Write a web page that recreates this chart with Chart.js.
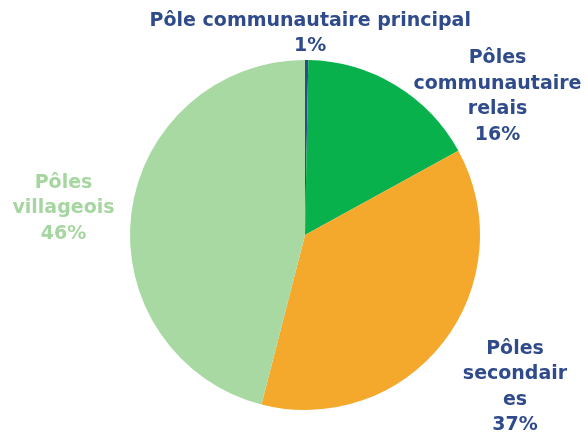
<!DOCTYPE html>
<html>
<head>
<meta charset="utf-8">
<script src="https://cdn.jsdelivr.net/npm/chart.js@4"></script>
<style>
  html, body { margin: 0; padding: 0; background: #fff; }
  #wrap { width: 588px; height: 432px; }
</style>
</head>
<body>
<div id="wrap"><canvas id="pie"></canvas></div>
<script>
// données (le 1% est dessiné comme un trait très fin)
const categories = ["Pôle communautaire principal", "Pôles communautaire relais", "Pôles secondaires", "Pôles villageois"];
const values = [0.3, 16.7, 37, 46];
const pctLabels = ["1%", "16%", "37%", "46%"];
const labelLines = [
    ["Pôle communautaire principal", "1%"],
    ["Pôles", "communautaire", "relais", "16%"],
    ["Pôles", "secondair", "es", "37%"],
    ["Pôles", "villageois", "46%"]
];
const sliceColors = ["#2d4a8c", "#08b14c", "#f5a92c", "#a9d9a3"];
const textColors = ["#2f4b8b", "#2f4b8b", "#2f4b8b", "#a6d6a0"];

// position des étiquettes, en rayons depuis le centre
const labelOffsets = [[0.03, -1.222], [1.10, -1.01], [1.20, 0.65], [-1.38, -0.298]];

const labelPlugin = {
    id: 'outerLabels',
    afterDraw(chart) {
        const ctx = chart.ctx;
        const arc = chart.getDatasetMeta(0).data[0];
        const cx = arc.x, cy = arc.y, r = arc.outerRadius;
        ctx.save();
        ctx.font = "bold 19px 'DejaVu Sans', sans-serif";
        ctx.textAlign = "center";
        ctx.textBaseline = "middle";
        labelLines.forEach((lines, i) => {
            const x = cx + labelOffsets[i][0] * r;
            let y = cy + labelOffsets[i][1] * r;
            ctx.fillStyle = textColors[i];
            lines.forEach(l => {
                ctx.fillText(l, x, y);
                y += i === 0 ? 25 : 25.5;
            });
        });
        ctx.restore();
    }
};

new Chart(document.getElementById("pie"), {
    type: 'pie',
    data: {
        labels: categories,
        datasets: [{
            data: values,
            backgroundColor: sliceColors,
            borderWidth: 0
        }]
    },
    options: {
        responsive: true,
        maintainAspectRatio: false,
        animation: false,
        layout: { padding: { left: 130, right: 108, top: 60, bottom: 22 } },
        plugins: {
            legend: { display: false },
            tooltip: { enabled: false }
        }
    },
    plugins: [labelPlugin]
});
</script>
</body>
</html>
